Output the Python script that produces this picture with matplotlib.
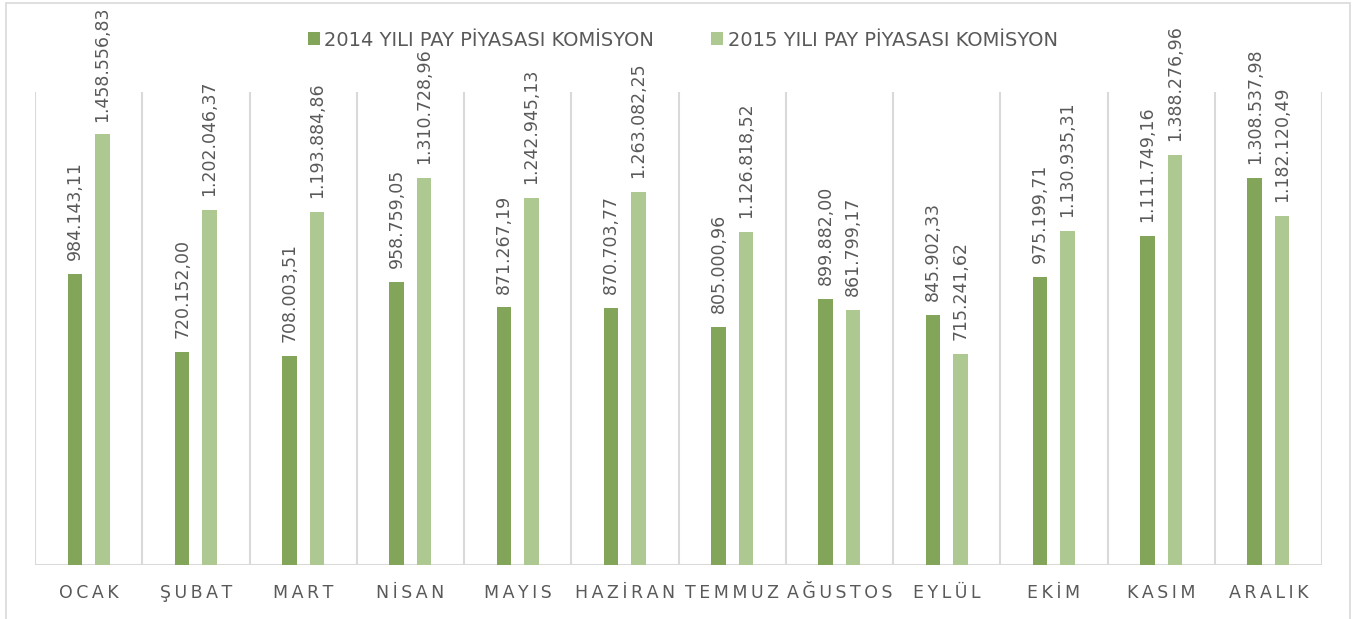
import numpy as np
import matplotlib.pyplot as plt
from matplotlib.patches import Rectangle

# Aylar ve komisyon tutarlari
aylar = ["OCAK", "ŞUBAT", "MART", "NİSAN", "MAYIS", "HAZİRAN",
         "TEMMUZ", "AĞUSTOS", "EYLÜL", "EKİM", "KASIM", "ARALIK"]
kom_2014 = [984143.11, 720152.00, 708003.51, 958759.05, 871267.19, 870703.77,
            805000.96, 899882.00, 845902.33, 975199.71, 1111749.16, 1308537.98]
kom_2015 = [1458556.83, 1202046.37, 1193884.86, 1310728.96, 1242945.13, 1263082.25,
            1126818.52, 861799.17, 715241.62, 1130935.31, 1388276.96, 1182120.49]
seri_adlari = ["2014 YILI PAY PİYASASI KOMİSYON", "2015 YILI PAY PİYASASI KOMİSYON"]

renk_koyu = "#82A559"
renk_acik = "#ADC991"
yazi_renk = "#595959"
cizgi_renk = "#D9D9D9"

W, H = 1357, 619
fig = plt.figure(figsize=(W / 100, H / 100), dpi=100)
ax = fig.add_axes([35 / W, 1 - 565 / H, (1322 - 35) / W, (565 - 92) / H])

x = np.arange(len(aylar))
gen = 0.135
ofs = 0.128
b1 = ax.bar(x - ofs, kom_2014, gen, color=renk_koyu, label=seri_adlari[0], zorder=2)
b2 = ax.bar(x + ofs, kom_2015, gen, color=renk_acik, label=seri_adlari[1], zorder=2)

ax.set_xlim(-0.5, len(aylar) - 0.5)
ax.set_ylim(0, 1.6e6)
for s in ax.spines.values():
    s.set_visible(False)
ax.set_xticks([])
ax.set_yticks([])

# kategori ayiraclari
for k in np.arange(-0.5, len(aylar), 1.0):
    ax.axvline(k, color=cizgi_renk, lw=1.5, zorder=1)
ax.axhline(0, color=cizgi_renk, lw=1.5, zorder=1)


def tr_format(v):
    s = f"{v:,.2f}"
    return s.replace(",", "#").replace(".", ",").replace("#", ".")


etiketler = []
for bars, vals in [(b1, kom_2014), (b2, kom_2015)]:
    for b, v in zip(bars, vals):
        a = ax.annotate(tr_format(v), xy=(b.get_x() + b.get_width() / 2, v),
                        xytext=(0, 10), textcoords="offset points",
                        rotation=90, ha="center", va="bottom",
                        fontsize=12.5, color=yazi_renk, annotation_clip=False)
        etiketler.append(a)

# ay etiketleri (harf aralikli)
for i, ay in enumerate(aylar):
    ax.annotate("\u2009".join(ay), xy=(i, 0), xycoords=("data", "axes fraction"),
                xytext=(0, -23.8), textcoords="offset points",
                ha="center", va="baseline", fontsize=12.5, color=yazi_renk,
                annotation_clip=False)

leg = fig.legend(loc="center", bbox_to_anchor=(0.503, 1 - 40 / H), ncol=2,
                 frameon=False, fontsize=14, handlelength=0.62, handleheight=0.62,
                 handletextpad=0.25, columnspacing=2.9)
for t in leg.get_texts():
    t.set_color(yazi_renk)

# dis cerceve
fig.patches.append(Rectangle((6 / W, -0.05), 1344 / W, 1.05 - 3 / H,
                             transform=fig.transFigure, fill=False,
                             edgecolor=cizgi_renk, lw=1.2))

# ustten tasan etiketleri asagi it
fig.canvas.draw()
r = fig.canvas.get_renderer()
for a in etiketler:
    bb = a.get_window_extent(r)
    if bb.y1 > H - 6:
        fazla = (bb.y1 - (H - 6)) * 72 / 100
        a.xyann = (0, 10 - fazla)

fig.savefig("out.png", dpi=100, facecolor="white")
